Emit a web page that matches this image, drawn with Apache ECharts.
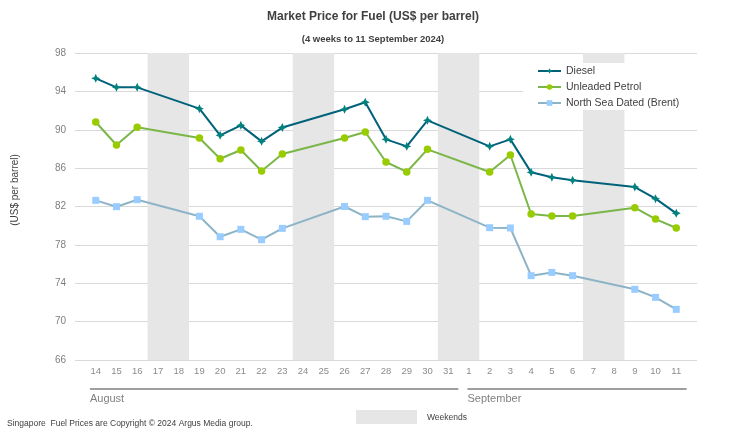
<!DOCTYPE html>
<html>
<head>
<meta charset="utf-8">
<script src="https://cdn.jsdelivr.net/npm/echarts@6/dist/echarts.min.js"></script>
<style>html,body{margin:0;padding:0;background:#fff;}#c{width:746px;height:438px;}</style>
</head>
<body>
<div id="c"></div>
<script>
// ---- data ----
var days = ['14','15','16','17','18','19','20','21','22','23','24','25','26','27','28','29','30','31',
            '1','2','3','4','5','6','7','8','9','10','11'];
var diesel = [95.36,94.42,94.42,null,null,92.2,89.42,90.46,88.79,90.23,null,null,92.13,92.86,89.0,88.27,90.98,null,null,88.27,89.0,85.56,85.04,84.73,null,null,84.03,82.82,81.29];
var petrol = [90.81,88.41,90.25,null,null,89.14,86.98,87.89,85.7,87.47,null,null,89.14,89.77,86.64,85.6,87.96,null,null,85.6,87.37,81.22,81.01,81.01,null,null,81.88,80.69,79.76];
var brent  = [82.64,81.98,82.71,null,null,80.98,78.85,79.62,78.54,79.72,null,null,82.0,80.94,80.98,80.45,82.64,null,null,79.79,79.76,74.79,75.13,74.79,null,null,73.37,72.53,71.28];
var weekends = [['17','18'],['24','25'],['31','1'],['7','8']];
var months = [{name:'August', from:'14', to:'31'},{name:'September', from:'1', to:'11'}];
var yTicks = {min:66, max:98, step:4};

// ---- helpers ----
function pairs(arr){ var out=[]; arr.forEach(function(v,i){ if(v!==null) out.push([i,v]); }); return out; }
var FONT = '"Liberation Sans", Arial, sans-serif';
var starPath = 'path://M0,-5 L1.6,-1.6 L5,0 L1.6,1.6 L0,5 L-1.6,1.6 L-5,0 L-1.6,-1.6 Z';

var bands = weekends.map(function(w){
  return [{xAxis: days.indexOf(w[0]) - 0.5}, {xAxis: days.indexOf(w[1]) + 0.5}];
});

var chart = echarts.init(document.getElementById('c'), null, {renderer:'canvas'});
var option = {
  animation:false,
  backgroundColor:'#fff',
  textStyle:{fontFamily:FONT},
  title:[
    {text:'Market Price for Fuel (US$ per barrel)', left:'center', top:6,
     textStyle:{fontSize:12, fontWeight:'bold', color:'#404040', fontFamily:FONT}},
    {text:'(4 weeks to 11 September 2024)', left:'center', top:29,
     textStyle:{fontSize:9.5, fontWeight:'bold', color:'#404040', fontFamily:FONT}}
  ],
  grid:{left:75, right:49, top:53, bottom:78},
  xAxis:{type:'value', min:-1, max:days.length, interval:1,
    axisLine:{show:false}, axisTick:{show:false}, splitLine:{show:false},
    axisLabel:{margin:6, color:'#8c8c8c', fontSize:9.5, fontFamily:FONT,
      formatter:function(v){ return (v>=0 && v<days.length) ? days[v] : ''; }}},
  yAxis:{type:'value', min:yTicks.min, max:yTicks.max, interval:yTicks.step,
    axisLine:{show:false}, axisTick:{show:false},
    splitLine:{lineStyle:{color:'#d9d9d9', width:1}},
    axisLabel:{margin:9, color:'#808080', fontSize:10, fontFamily:FONT}},
  legend:{orient:'vertical', left:523, top:63, itemWidth:23, itemHeight:7, itemGap:4,
    padding:[2,18,1,14], backgroundColor:'#fff',
    textStyle:{fontSize:10.5, color:'#404040', lineHeight:12, fontFamily:FONT},
    data:['Diesel','Unleaded Petrol','North Sea Dated (Brent)']},
  series:[
    {name:'Diesel', type:'line', data:pairs(diesel), symbol:starPath, symbolSize:9,
     lineStyle:{color:'#00627A', width:2}, itemStyle:{color:'#00827F'}, z:5,
     markArea:{silent:true, itemStyle:{color:'#e6e6e6'}, data:bands}},
    {name:'Unleaded Petrol', type:'line', data:pairs(petrol), symbol:'circle', symbolSize:7.5,
     lineStyle:{color:'#7AB648', width:2}, itemStyle:{color:'#99CC00'}, z:4},
    {name:'North Sea Dated (Brent)', type:'line', data:pairs(brent), symbol:'rect', symbolSize:7,
     lineStyle:{color:'#8DB4C6', width:2}, itemStyle:{color:'#99CCFF'}, z:3}
  ]
};
chart.setOption(option);

// ---- decorations positioned via the axes ----
var g = [];
var lineY = 389;
var startPad = [0.28, 0.07], endPad = [0.49, 0.5];
months.forEach(function(m, k){
  var a = days.indexOf(m.from), b = days.indexOf(m.to);
  var x1 = chart.convertToPixel({xAxisIndex:0}, a - startPad[k]);
  var x2 = chart.convertToPixel({xAxisIndex:0}, b + endPad[k]);
  g.push({type:'line', shape:{x1:x1, y1:lineY, x2:x2, y2:lineY}, style:{stroke:'#7f7f7f', lineWidth:1.3}, silent:true});
  g.push({type:'text', x:x1, y:lineY+4, style:{text:m.name, fill:'#808080', font:'11px '+FONT, textAlign:'left', textVerticalAlign:'top'}, silent:true});
});
g.push({type:'text', x:15, y:190, rotation:Math.PI/2,
  style:{text:'(US$ per barrel)', fill:'#404040', font:'10px '+FONT, textAlign:'center', textVerticalAlign:'middle'}, silent:true});
g.push({type:'rect', shape:{x:356, y:410, width:61, height:14}, style:{fill:'#e6e6e6'}, silent:true});
g.push({type:'text', x:427, y:418, style:{text:'Weekends', fill:'#404040', font:'8.5px '+FONT, textAlign:'left', textVerticalAlign:'middle'}, silent:true});
g.push({type:'text', x:7, y:424, style:{text:'Singapore  Fuel Prices are Copyright \u00A9 2024 Argus Media group.', fill:'#404040', font:'8.5px '+FONT, textAlign:'left', textVerticalAlign:'middle'}, silent:true});
chart.setOption({graphic:g});
</script>
</body>
</html>
